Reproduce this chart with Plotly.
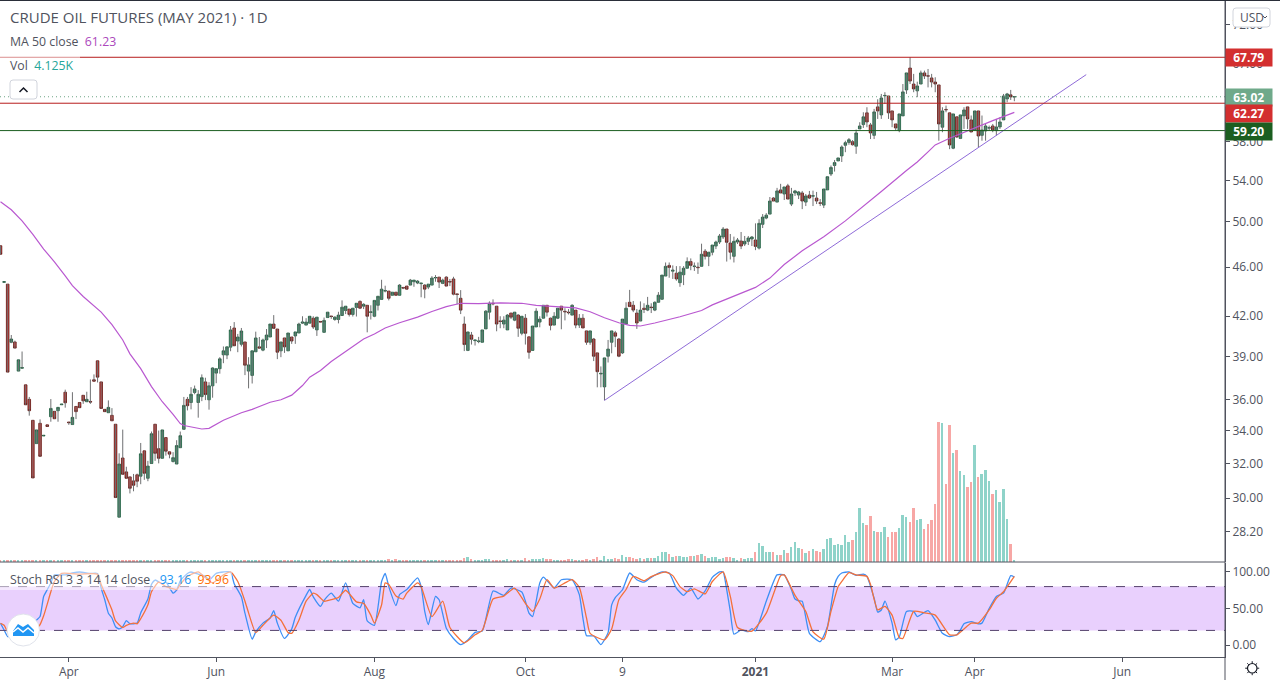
import plotly.graph_objects as go

W_PLOT = 1225
H = 680

# daily candles
opens = [
    47.85, 44.72, 44.57, 40.03, 40.05, 37.95, 38.15, 37.0, 36.02, 34.65,
    33.19, 34.46, 33.66, 34.36, 34.88, 35.23, 35.27, 35.66, 36.5, 34.54,
    34.38, 35.55, 35.81, 36.29, 35.86, 35.88, 37.35, 38.68, 37.2, 35.36,
    35.14, 34.97, 34.4, 28.97, 32.32, 31.5, 31.21, 30.98, 31.33, 31.25,
    32.75, 31.13, 31.99, 34.4, 32.88, 32.3, 33.56, 32.69, 32.11, 31.96,
    32.94, 34.08, 36.02, 35.81, 36.48, 35.81, 36.2, 37.2, 35.99, 36.93,
    37.81, 38.12, 39.11, 39.09, 39.67, 41.1, 40.12, 39.88, 40.05, 37.95,
    37.65, 39.33, 39.69, 39.45, 40.2, 40.42, 41.4, 41.02, 39.4, 40.35,
    39.4, 40.42, 40.5, 40.72, 41.47, 41.32, 41.47, 41.85, 40.95, 41.6,
    40.77, 41.9, 42.02, 41.75, 41.75, 42.06, 42.45, 42.56, 42.14, 42.69,
    43.17, 42.79, 42.86, 42.3, 42.0, 42.86, 43.33, 44.0, 44.0, 43.66,
    43.91, 43.66, 44.29, 44.41, 44.49, 44.77, 44.66, 44.61, 44.49, 44.33,
    44.49, 45.08, 45.15, 44.63, 45.15, 44.79, 45.0, 43.77, 43.42, 41.4,
    39.43, 40.57, 40.15, 40.08, 40.03, 41.03, 42.32, 43.02, 42.79, 41.64,
    41.4, 40.95, 42.25, 41.7, 42.09, 40.7, 41.85, 40.43, 39.43, 41.18,
    41.55, 41.85, 42.86, 41.85, 41.32, 41.85, 42.79, 42.39, 42.32, 42.09,
    42.48, 41.32, 41.85, 40.88, 40.03, 40.27, 39.25, 37.75, 36.86, 39.01,
    40.03, 40.73, 40.27, 39.25, 41.4, 43.1, 42.86, 42.25, 41.63, 42.63,
    42.48, 42.72, 42.48, 43.1, 43.34, 45.24, 46.14, 45.65, 45.48, 44.69,
    45.35, 45.9, 46.47, 46.04, 45.99, 46.06, 47.37, 46.92, 47.28, 47.82,
    48.18, 48.63, 49.35, 48.09, 46.92, 48.18, 48.27, 48.0, 48.24, 48.45,
    48.36, 47.64, 49.78, 50.36, 50.73, 52.26, 51.87, 53.05, 52.65, 53.45,
    51.68, 52.75, 52.55, 52.75, 51.87, 52.55, 52.44, 52.26, 51.8, 51.58,
    53.05, 54.63, 55.5, 55.97, 56.49, 57.61, 57.92, 58.0, 57.51, 59.38,
    59.86, 61.17, 59.82, 58.68, 61.85, 60.94, 63.13, 63.11, 61.39, 59.93,
    59.2, 60.83, 63.82, 66.46, 64.52, 63.71, 64.52, 65.86, 65.51, 65.25,
    64.76, 64.41, 59.57, 61.56, 61.17, 57.3, 60.72, 58.35, 60.83, 61.85,
    60.38, 59.27, 61.39, 58.68, 59.16, 59.47, 59.71, 59.2, 59.6, 60.38, 62.77, 63.24, 63.0,
]
closes = [
    47.1, 44.77, 37.88, 40.27, 39.6, 38.75, 38.2, 35.66, 35.27, 31.15,
    34.04, 32.42, 33.7, 34.26, 35.42, 34.75, 35.49, 35.7, 35.79, 34.5,
    34.84, 35.21, 35.47, 35.92, 36.02, 35.84, 37.25, 37.53, 35.42, 35.21,
    35.49, 34.62, 30.04, 31.96, 31.36, 31.13, 30.56, 30.73, 30.96, 32.57,
    31.42, 31.84, 33.8, 32.6, 32.3, 34.04, 32.73, 32.55, 32.34, 33.07,
    33.68, 35.62, 35.6, 36.36, 36.72, 36.36, 37.49, 36.34, 36.93, 38.17,
    38.12, 38.82, 39.4, 39.69, 40.95, 39.77, 40.42, 40.87, 38.37, 38.39,
    39.4, 40.35, 39.6, 40.2, 40.57, 41.4, 41.07, 39.3, 40.05, 39.69,
    40.72, 40.12, 40.8, 41.4, 41.55, 41.55, 42.0, 41.17, 41.93, 41.56,
    41.68, 42.32, 41.98, 41.93, 42.09, 42.71, 42.79, 42.14, 42.63, 43.02,
    42.63, 42.94, 42.0, 42.34, 43.25, 43.58, 44.16, 44.04, 43.42, 43.91,
    43.66, 44.49, 44.25, 44.16, 44.9, 44.9, 44.82, 44.65, 44.16, 44.57,
    45.07, 45.12, 44.74, 44.9, 44.41, 44.75, 43.75, 43.73, 42.48, 39.86,
    40.8, 40.25, 40.19, 40.12, 40.95, 42.4, 43.02, 42.98, 41.4, 41.6,
    41.7, 42.09, 41.93, 42.32, 41.08, 42.0, 40.7, 39.29, 41.25, 42.4,
    41.78, 42.86, 42.32, 41.3, 42.0, 42.63, 42.48, 42.35, 42.28, 42.86,
    41.32, 41.85, 41.1, 40.03, 40.88, 39.01, 37.91, 37.79, 38.89, 39.53,
    40.88, 40.48, 39.01, 41.78, 42.63, 42.76, 42.48, 41.48, 42.48, 42.53,
    42.86, 42.68, 43.1, 43.67, 45.32, 46.06, 45.97, 45.73, 45.0, 45.57,
    45.9, 46.47, 46.14, 46.08, 45.95, 47.1, 46.92, 47.28, 47.91, 48.18,
    48.72, 49.35, 48.15, 47.28, 48.24, 48.36, 47.82, 48.24, 48.54, 48.63,
    47.79, 49.87, 50.45, 50.63, 51.97, 51.97, 52.95, 52.75, 53.34, 52.16,
    52.65, 52.95, 52.85, 51.97, 52.46, 52.26, 52.48, 51.97, 51.76, 53.14,
    54.36, 55.3, 55.8, 56.28, 57.43, 57.89, 58.21, 57.67, 58.94, 59.71,
    60.72, 60.15, 58.94, 61.28, 61.39, 62.88, 63.17, 61.17, 60.38, 59.49,
    61.05, 63.59, 65.86, 64.88, 63.94, 64.29, 65.86, 65.49, 65.47, 64.76,
    64.52, 59.93, 61.39, 61.52, 57.65, 61.05, 58.5, 60.94, 61.5, 60.49,
    59.05, 61.39, 58.61, 59.27, 59.71, 59.51, 59.27, 59.6, 60.15, 63.11, 63.35, 63.0, 63.02,
]
highs = [
    47.85, 44.77, 44.57, 40.57, 40.15, 38.75, 39.35, 37.0, 36.18, 34.65,
    34.04, 34.71, 33.7, 34.36, 36.04, 35.23, 35.49, 35.7, 36.67, 34.54,
    36.5, 35.55, 35.81, 36.29, 36.53, 37.37, 37.72, 38.68, 37.2, 35.36,
    35.95, 35.44, 34.4, 32.6, 34.06, 31.8, 31.21, 31.38, 31.4, 33.23,
    32.75, 32.15, 33.94, 34.4, 34.0, 34.04, 33.56, 32.69, 32.67, 33.4,
    33.94, 36.18, 36.18, 36.84, 36.95, 36.64, 37.72, 37.49, 37.18, 38.22,
    38.12, 38.94, 39.72, 39.69, 41.25, 41.55, 40.65, 41.1, 40.05, 38.94,
    39.4, 40.82, 40.42, 40.3, 41.02, 41.4, 42.09, 41.02, 40.05, 40.35,
    40.72, 40.42, 40.8, 41.5, 42.0, 41.85, 42.0, 42.0, 41.93, 41.6,
    41.9, 42.32, 42.02, 42.0, 42.35, 43.25, 42.79, 42.56, 42.63, 43.02,
    43.25, 43.02, 42.86, 42.86, 43.25, 43.58, 44.93, 44.44, 44.0, 43.91,
    43.91, 44.57, 44.35, 44.41, 45.0, 44.9, 44.9, 44.65, 44.57, 44.57,
    45.23, 45.32, 45.15, 45.02, 45.23, 45.0, 45.18, 43.77, 44.08, 41.98,
    40.8, 40.8, 40.19, 40.43, 40.95, 42.48, 43.17, 43.33, 42.79, 42.0,
    42.0, 42.17, 42.25, 42.32, 42.17, 42.0, 42.17, 40.43, 41.25, 42.63,
    42.0, 42.86, 42.86, 41.9, 42.32, 42.63, 42.79, 42.63, 42.56, 42.94,
    42.48, 42.17, 42.17, 40.88, 40.88, 40.35, 39.25, 38.28, 38.89, 40.2,
    40.88, 40.88, 40.35, 41.78, 43.1, 44.1, 43.2, 42.56, 43.17, 43.02,
    43.53, 43.02, 43.17, 43.92, 45.32, 46.39, 46.39, 46.14, 46.08, 46.08,
    46.08, 46.83, 46.74, 46.39, 46.39, 48.03, 47.55, 47.28, 47.91, 48.3,
    48.9, 49.53, 49.35, 48.9, 48.66, 48.54, 49.08, 48.72, 48.72, 48.72,
    49.87, 50.25, 50.73, 50.82, 52.36, 52.36, 53.25, 53.65, 53.34, 53.65,
    53.25, 53.05, 52.95, 52.95, 52.65, 52.95, 52.98, 52.85, 52.16, 53.14,
    54.36, 55.5, 56.07, 56.28, 57.6, 58.1, 58.39, 58.17, 59.31, 60.12,
    61.24, 61.81, 60.04, 61.62, 62.73, 63.35, 63.55, 63.11, 61.39, 59.93,
    61.05, 64.52, 65.86, 67.79, 65.74, 64.8, 66.14, 66.14, 66.34, 65.74,
    65.33, 64.41, 61.81, 62.0, 61.17, 61.05, 60.72, 60.94, 61.81, 61.85,
    60.87, 61.39, 61.39, 60.87, 59.93, 59.75, 59.93, 60.49, 60.68, 63.35, 63.47, 63.82, 63.1,
]
lows = [
    47.1, 44.72, 37.88, 39.96, 39.6, 37.95, 38.15, 35.66, 34.95, 31.15,
    33.19, 32.42, 33.66, 34.26, 34.56, 34.75, 34.56, 35.66, 35.47, 34.36,
    34.38, 34.73, 35.47, 35.72, 35.86, 35.72, 37.25, 37.16, 35.42, 35.21,
    35.14, 34.62, 30.04, 28.97, 31.36, 31.13, 30.27, 30.39, 30.62, 30.79,
    31.04, 30.96, 31.99, 32.15, 32.0, 32.3, 32.46, 32.3, 32.05, 31.96,
    32.94, 34.08, 35.29, 35.36, 36.36, 34.82, 35.9, 35.97, 35.34, 36.13,
    37.11, 37.77, 38.51, 38.8, 39.37, 39.77, 39.3, 39.72, 37.67, 36.76,
    37.09, 39.33, 39.55, 39.37, 39.6, 40.42, 41.07, 38.8, 38.94, 39.25,
    39.4, 39.91, 39.91, 40.72, 41.4, 41.32, 41.47, 41.02, 40.5, 41.56,
    40.77, 41.9, 41.8, 41.65, 41.45, 42.06, 42.17, 41.98, 41.98, 41.98,
    42.56, 42.56, 40.77, 41.75, 41.93, 42.45, 43.33, 43.9, 43.25, 43.66,
    43.66, 43.66, 44.16, 44.1, 44.49, 44.35, 44.57, 43.5, 43.42, 44.16,
    44.49, 44.77, 44.25, 44.57, 44.41, 44.41, 43.66, 42.94, 42.17, 39.38,
    39.38, 39.86, 39.79, 39.96, 40.03, 41.03, 41.75, 42.86, 40.85, 41.08,
    41.08, 40.95, 41.78, 41.62, 40.43, 40.55, 39.86, 38.83, 39.43, 41.18,
    41.15, 41.85, 41.98, 40.92, 41.32, 41.78, 41.0, 41.68, 42.14, 42.09,
    41.08, 41.1, 41.1, 39.84, 39.84, 38.66, 36.83, 36.83, 35.95, 38.56,
    39.22, 39.67, 38.94, 39.17, 41.4, 42.76, 42.32, 41.03, 41.63, 42.25,
    42.4, 42.25, 42.4, 43.1, 43.34, 45.24, 45.1, 45.0, 44.85, 44.35,
    44.49, 45.9, 45.73, 45.67, 45.42, 46.06, 46.65, 46.08, 47.01, 47.55,
    48.0, 48.45, 46.47, 46.65, 46.39, 48.0, 47.55, 47.82, 47.91, 47.82,
    47.46, 47.52, 49.44, 50.25, 50.73, 51.97, 51.87, 52.75, 52.07, 52.16,
    51.49, 52.46, 52.16, 51.2, 51.49, 52.16, 51.49, 51.68, 51.49, 51.3,
    53.05, 54.43, 54.88, 55.97, 55.86, 56.88, 57.67, 57.58, 56.71, 59.38,
    59.49, 59.57, 58.28, 58.28, 60.49, 60.49, 62.18, 60.49, 59.57, 59.2,
    59.02, 60.83, 63.35, 64.52, 63.55, 62.97, 64.52, 65.12, 64.12, 64.12,
    63.55, 58.1, 59.02, 61.24, 57.2, 57.2, 58.39, 58.28, 59.38, 59.38,
    59.02, 59.2, 57.4, 58.1, 58.1, 59.2, 59.02, 58.65, 59.38, 60.38, 62.38, 62.65, 62.5,
]

# volume in thousands
volumes = [
    3.4, 4.8, 4.1, 2.7, 2.7, 4.8, 2.7, 2.1, 2.7, 2.7, 2.7,
    2.1, 2.7, 2.7, 2.1, 3.4, 2.1, 4.8, 2.7, 4.8, 4.8,
    4.8, 4.8, 4.8, 2.7, 2.7, 4.8, 2.1, 2.1, 2.1, 2.1,
    2.7, 4.8, 4.8, 2.7, 2.1, 2.1, 2.1, 2.1, 4.8, 2.1,
    2.1, 4.1, 2.1, 4.8, 4.8, 2.1, 4.8, 2.1, 4.1, 4.8,
    4.8, 4.8, 2.1, 2.1, 4.8, 4.8, 4.8, 2.1, 2.1, 4.8,
    4.8, 2.1, 2.1, 2.1, 4.8, 4.8, 2.1, 4.1, 2.1, 4.8,
    4.8, 2.1, 2.1, 4.8, 4.8, 2.1, 4.8, 4.8, 4.8, 4.8,
    4.8, 4.8, 4.8, 2.7, 2.7, 4.8, 2.1, 2.1, 2.1, 2.1,
    4.8, 2.1, 2.1, 2.1, 4.8, 2.1, 4.8, 4.8, 2.7, 2.1,
    4.8, 2.1, 2.1, 2.1, 4.8,
    4.1, 4.1, 6.2, 4.1, 6.2, 4.1, 4.1, 4.1, 4.1, 4.1,
    2.1, 2.1, 2.1, 4.1, 4.1, 2.1, 4.1, 2.1, 4.1, 4.1,
    4.1, 4.1, 4.1, 8.2, 10.3, 6.2, 4.1, 4.1, 4.1, 6.2,
    6.2, 4.1, 4.1, 4.1, 4.1, 6.2, 4.1, 4.1, 4.1, 4.1,
    8.2, 4.1, 6.2, 6.2, 6.2, 8.2, 6.2, 6.2, 4.1, 4.1,
    4.1, 4.1, 6.2, 6.2, 4.1, 4.1, 4.1, 6.2, 4.1, 6.2,
    10.3, 4.1, 12.4, 6.2, 6.2, 8.2, 6.2, 14.4, 10.3, 10.3,
    8.2, 6.2, 8.2, 6.2, 8.2, 8.2, 8.2, 12.4, 20.6, 20.6,
    16.5, 10.3, 12.4, 12.4, 10.3, 10.3, 12.4, 12.4, 14.4, 16.5,
    12.4, 8.2, 10.3, 10.3, 6.2, 8.2, 10.3, 10.3, 8.2, 4.1,
    7.6, 5.5, 7.6, 7.6, 20.0, 38.5, 32.3, 20.0, 20.0, 20.0,
    13.7, 13.7, 24.0, 17.9, 30.2, 40.5, 28.2, 26.1, 17.9, 22.0,
    26.1, 22.0, 20.0, 26.1, 46.7, 48.8, 34.4, 36.4, 34.4, 55.0,
    40.5, 44.7, 61.1, 110.6, 79.7, 75.6, 94.1, 63.2, 61.1, 61.1,
    71.4, 50.8, 61.1, 61.1, 69.4, 96.2, 92.1, 81.8, 110.6, 85.9,
    87.9, 67.3, 77.6, 85.9, 118.9, 287.9, 285.8, 160.1, 281.7, 224.0,
    230.1, 186.9, 178.6, 153.9, 164.2, 240.5, 174.5, 180.7, 188.9, 166.3,
    139.5, 147.7, 123.0, 149.8, 87.9, 36.4, 4.1,
]

# moving average, read at the bars where it bends
ma_bars = [
    0, 3, 6, 9, 12, 15, 18, 20, 23, 25, 28, 31, 34, 36, 39, 42, 45, 48, 50, 51, 53, 56, 58,
    62, 67, 70, 75, 78, 81, 84, 86, 89, 92, 95, 98, 101, 104, 107, 111, 116, 120, 124, 128,
    133, 139, 145, 149, 155, 160, 164, 168, 172, 175, 178, 182, 189, 195, 198, 204, 210,
    214, 218, 223, 229, 235, 239, 243, 245, 252, 255, 258, 260, 264, 268, 272, 276, 282,
]
ma_values = [
    51.9, 51.14, 50.1, 48.87, 47.55, 46.45, 45.26, 44.44, 43.56, 43.07, 42.32, 41.35, 40.2,
    39.18, 38.12, 36.88, 35.86, 35.03, 34.44, 34.32, 34.22, 34.1, 34.14, 34.65, 35.14, 35.36,
    35.83, 35.99, 36.3, 36.95, 37.53, 38.0, 38.63, 39.16, 39.74, 40.27, 40.65, 41.1, 41.5,
    41.93, 42.37, 42.76, 43.02, 43.0, 43.05, 43.02, 42.86, 42.73, 42.66, 42.35, 41.88, 41.5,
    41.3, 41.25, 41.48, 41.96, 42.45, 42.89, 43.6, 44.3, 45.07, 46.22, 47.4, 48.66, 50.1,
    51.17, 52.33, 52.9, 54.98, 55.86, 56.91, 57.65, 58.36, 59.02, 59.71, 60.3, 61.23,
]

# stoch rsi %K
k_bars = [
    0, 1, 2, 3, 4, 6, 8, 9, 10, 11, 12, 13, 14, 15, 18, 20, 22, 25, 27, 28, 29, 30, 31, 32, 33,
    34, 35, 36, 38, 39, 41, 42, 43, 45, 46, 48, 49, 50, 52, 53, 55, 57, 58, 60, 62, 64, 65, 67,
    68, 70, 71, 73, 75, 76, 77, 79, 81, 82, 85, 86, 87, 89, 90, 92, 94, 96, 98, 100, 101, 102,
    104, 106, 107, 108, 110, 111, 113, 116, 117, 118, 119, 121, 122, 124, 126, 128, 130, 132,
    134, 137, 139, 140, 142, 145, 146, 147, 148, 150, 151, 154, 156, 159, 161, 162, 163, 165,
    167, 169, 170, 171, 173, 175, 177, 179, 181, 184, 186, 188, 190, 192, 194, 196, 198, 200,
    201, 202, 203, 204, 206, 208, 209, 210, 213, 216, 218, 220, 221, 222, 223, 225, 228, 230,
    232, 233, 234, 236, 238, 240, 241, 243, 244, 245, 246, 248, 249, 250, 252, 254, 255, 258,
    260, 262, 264, 266, 267, 268, 270, 272, 273, 275, 277, 279, 281, 282,
]
k_values = [
    29.8, 20.6, 11.5, 11.5, 10, 8, 15, 28, 34, 39, 66.5, 75.7, 85, 96, 96, 98.6, 100, 98, 98, 78,
    62, 43.6, 37, 25, 22, 25, 33.5, 29, 30, 44, 63, 83, 89, 84, 86, 71, 75, 88, 98, 100, 97, 94,
    89, 98, 100, 100, 84, 66, 43.6, 8, 18, 30, 37, 47, 30, 9, 22, 38, 68, 76, 66, 53, 61, 71, 60,
    85, 57, 51, 62, 33, 27, 87, 98, 80, 54, 69, 76, 92, 80, 46, 28, 66.5, 62, 23, 9, 0.5, 7, 17.4,
    19, 74, 70, 68, 78, 72.5, 60, 43.6, 39, 85, 93, 78, 89.4, 89.4, 69, 37, 12.8, 12.4, 0.5, 17,
    55, 65, 75.7, 98.6, 89.4, 86, 92.7, 100, 98.6, 78, 68, 78, 63, 74, 92.7, 100, 100, 75.7, 46,
    15, 20.6, 18.3, 22.5, 19.3, 60, 96, 96, 75.7, 63, 60.5, 60, 16, 4.6, 25, 82.6, 94, 98.6, 100,
    95.4, 97, 94, 64, 45, 48, 60, 30, 7, 11, 46, 46, 39, 47, 34, 16, 11.5, 14, 20.6, 29, 32, 29,
    30, 50, 66.5, 71, 95, 93.16,
]

# stoch rsi %D
d_bars = [
    0, 1, 2, 4, 7, 9, 11, 12, 13, 14, 15, 17, 22, 27, 28, 30, 31, 32, 34, 35, 37, 38, 39, 41, 42,
    44, 46, 49, 50, 52, 55, 57, 59, 62, 64, 66, 68, 69, 71, 73, 76, 78, 80, 81, 83, 85, 87, 88,
    90, 92, 94, 96, 99, 101, 103, 104, 106, 107, 108, 110, 112, 113, 116, 117, 120, 123, 125,
    129, 132, 134, 137, 140, 143, 146, 148, 150, 152, 154, 157, 159, 161, 163, 164, 168, 170,
    172, 174, 176, 179, 181, 185, 187, 189, 191, 193, 196, 198, 201, 203, 205, 209, 213, 217,
    218, 221, 224, 226, 229, 231, 233, 234, 236, 238, 241, 242, 244, 246, 248, 250, 251, 254,
    257, 260, 264, 266, 270, 272, 275, 277, 279, 282,
]
d_values = [
    29.8, 27, 18, 13, 12, 17, 28, 40, 56, 73, 87, 98, 97, 97, 83, 60, 48, 33, 24, 27, 30, 29, 36,
    55, 73, 86, 80, 76, 83, 94, 100, 92, 85, 96, 100, 87, 60, 44, 17, 27, 41, 34, 17, 16, 34, 60,
    71, 69, 60, 62, 65, 75, 59, 57, 41, 30, 55, 85, 83, 67, 63, 71, 85, 80, 39, 60, 24, 3, 14, 20,
    63, 67, 78, 57, 46, 63, 89.4, 78, 85, 89.4, 79, 37, 16, 7, 22, 62, 76, 94, 88, 93.6, 100, 95,
    80, 73, 77, 70, 87, 100, 66.5, 24, 19, 43.6, 95, 96, 68, 46, 18, 8, 46, 80, 87, 99, 96, 94,
    83, 48, 53, 41, 10, 9, 46, 44, 41, 14, 14, 30, 30, 48, 64, 73, 93.96,
]

# horizontal levels and the rising trendline
top_level = 67.79
mid_level = 62.27
low_level = 59.20
last_price = 63.02
trend_bars = [168, 302]
trend_prices = [35.95, 65.65]

# 62.00 sits fully behind the tags in the reference, so it is left out
price_ticks = [28.2, 30, 32, 34, 36, 39, 42, 46, 50, 54, 58, 67, 72]
stoch_ticks = [0, 50, 100]
time_ticks = [19, 60, 104, 146, 173, 210, 248, 271, 312]
time_labels = ['Apr', 'Jun', 'Aug', 'Oct', '9', '<b>2021</b>', 'Mar', 'Apr', 'Jun']

UP = '#3f9170'
DOWN = '#d7322d'
TEXT = '#50535e'
FONT = 'Open Sans'


def px(x):
    return x / W_PLOT


def py(y):
    return 1 - y / H


def rounded(x0, y0, x1, y1, r=3):
    return (f'M {px(x0 + r)} {py(y0)} L {px(x1 - r)} {py(y0)} Q {px(x1)} {py(y0)} {px(x1)} {py(y0 + r)} '
            f'L {px(x1)} {py(y1 - r)} Q {px(x1)} {py(y1)} {px(x1 - r)} {py(y1)} '
            f'L {px(x0 + r)} {py(y1)} Q {px(x0)} {py(y1)} {px(x0)} {py(y1 - r)} '
            f'L {px(x0)} {py(y0 + r)} Q {px(x0)} {py(y0)} {px(x0 + r)} {py(y0)} Z')


bars = list(range(len(closes)))
x_range = [-0.14, 340.6]

fig = go.Figure()

# wicks go under the bodies so they can stay grey
wick_x, wick_y = [], []
for i in bars:
    wick_x += [i, i, None]
    wick_y += [lows[i], highs[i], None]
fig.add_trace(go.Scatter(x=wick_x, y=wick_y, mode='lines', line=dict(color='#6f7072', width=1),
                         hoverinfo='skip', showlegend=False))

body_top = [max(o, c) for o, c in zip(opens, closes)]
body_bot = [min(o, c) for o, c in zip(opens, closes)]
fig.add_trace(go.Candlestick(
    x=bars, open=opens, high=body_top, low=body_bot, close=closes,
    increasing=dict(line=dict(color='#1d5a3c', width=0.8), fillcolor=UP),
    decreasing=dict(line=dict(color='#5a1512', width=0.8), fillcolor=DOWN),
    hoverinfo='skip', showlegend=False))

fig.add_trace(go.Scatter(x=ma_bars, y=ma_values, mode='lines', line=dict(color='#b958d0', width=1.2),
                         hoverinfo='skip', showlegend=False))
fig.add_trace(go.Scatter(x=trend_bars, y=trend_prices, mode='lines', line=dict(color='#8f6bd8', width=1),
                         hoverinfo='skip', showlegend=False))

# full width price levels
for level, color, dash in [(top_level, '#b71c1c', 'solid'), (mid_level, '#b71c1c', 'solid'),
                           (low_level, '#1b5e20', 'solid'), (last_price, '#6ca584', '1px,3px')]:
    fig.add_trace(go.Scatter(x=x_range, y=[level, level], mode='lines',
                             line=dict(color=color, width=1, dash=dash),
                             hoverinfo='skip', showlegend=False))

vol_colors = ['#8fd3c9' if c >= o else '#f7a7a5' for o, c in zip(opens, closes)]
fig.add_trace(go.Bar(x=bars, y=volumes, yaxis='y2', marker=dict(color=vol_colors, line=dict(width=0)),
                     width=0.55, hoverinfo='skip', showlegend=False))

fig.add_trace(go.Scatter(x=k_bars, y=k_values, yaxis='y3', mode='lines',
                         line=dict(color='#3d8ff5', width=1.3, shape='spline', smoothing=0.5),
                         hoverinfo='skip', showlegend=False))
fig.add_trace(go.Scatter(x=d_bars, y=d_values, yaxis='y3', mode='lines',
                         line=dict(color='#f4703a', width=1.3, shape='spline', smoothing=0.5),
                         hoverinfo='skip', showlegend=False))

fig.update_layout(
    width=1280, height=H,
    margin=dict(l=0, r=55, t=0, b=0),
    paper_bgcolor='white', plot_bgcolor='white',
    font=dict(family=FONT, color=TEXT, size=12),
    showlegend=False,
    bargap=0,
    boxgap=0.15, boxgroupgap=0.15,
    xaxis=dict(range=x_range, anchor='y3', tickmode='array', tickvals=time_ticks, ticktext=time_labels,
               ticks='outside', ticklen=4, tickcolor=TEXT, showgrid=False, zeroline=False,
               showline=True, linecolor=TEXT, linewidth=1, rangeslider=dict(visible=False),
               tickfont=dict(size=12, color=TEXT, family=FONT), tickangle=0),
    yaxis=dict(type='log', domain=[118 / H, 679 / H], range=[1.42596, 1.87635], side='right', anchor='x',
               tickmode='array', tickvals=price_ticks, ticktext=[f'{t:.2f}' for t in price_ticks],
               ticks='outside', ticklen=4, tickcolor=TEXT, showgrid=False, zeroline=False,
               showline=True, linecolor=TEXT, linewidth=1),
    yaxis2=dict(domain=[118 / H, 679 / H], range=[0, 1156], overlaying='y', visible=False),
    yaxis3=dict(domain=[23 / H, 117 / H], range=[-16.4, 112.3], side='right', anchor='x',
                tickmode='array', tickvals=stoch_ticks, ticktext=[f'{t:.2f}' for t in stoch_ticks],
                ticks='outside', ticklen=4, tickcolor=TEXT, showgrid=False, zeroline=False,
                showline=True, linecolor=TEXT, linewidth=1),
)

band_line = dict(color='#54426b', width=1, dash='dash')
shapes = [
    # stoch band, 20 to 80
    dict(type='rect', xref='paper', yref='y3', x0=0, x1=1, y0=20, y1=80, fillcolor='#e9d0fd',
         line=dict(width=0), layer='below'),
    dict(type='line', xref='paper', yref='y3', x0=0, x1=1, y0=80, y1=80, line=band_line),
    dict(type='line', xref='paper', yref='y3', x0=0, x1=1, y0=20, y1=20, line=band_line),
    # pane frame
    dict(type='line', xref='paper', yref='paper', x0=0, x1=1, y0=py(562), y1=py(562),
         line=dict(color=TEXT, width=1)),
    dict(type='line', xref='paper', yref='paper', x0=1, x1=1, y0=0, y1=1, line=dict(color=TEXT, width=1)),
    dict(type='line', xref='paper', yref='paper', x0=0, x1=1280 / W_PLOT, y0=py(0.5), y1=py(0.5),
         line=dict(color='#2a2e39', width=1)),
    # legend backdrops
    dict(type='rect', xref='paper', yref='paper', x0=0, x1=px(80), y0=py(33), y1=py(58),
         fillcolor='rgba(255,255,255,0.5)', line=dict(width=0)),
    dict(type='rect', xref='paper', yref='paper', x0=0, x1=px(232), y0=py(568), y1=py(590),
         fillcolor='rgba(255,255,255,0.5)', line=dict(width=0)),
    # collapse button and currency button
    dict(type='path', xref='paper', yref='paper', path=rounded(10, 80, 37, 99),
         fillcolor='white', line=dict(color='#d1d4dc', width=1)),
    dict(type='path', xref='paper', yref='paper',
         path=f'M {px(19.5)} {py(92)} L {px(23.5)} {py(88)} L {px(27.5)} {py(92)}',
         line=dict(color='#131722', width=1.5)),
    dict(type='path', xref='paper', yref='paper', path=rounded(1233, 8, 1270, 27),
         fillcolor='white', line=dict(color='#d1d4dc', width=1)),
    dict(type='path', xref='paper', yref='paper',
         path=f'M {px(1263)} {py(16)} L {px(1265)} {py(18)} L {px(1267)} {py(16)}',
         line=dict(color=TEXT, width=1)),
    # logo
    dict(type='circle', xref='paper', yref='paper', x0=px(7), x1=px(39.5), y0=py(646), y1=py(614),
         fillcolor='white', line=dict(color='#e0e3eb', width=1)),
    dict(type='path', xref='paper', yref='paper',
         path=(f'M {px(13)} {py(636)} L {px(13)} {py(631)} L {px(18)} {py(624)} L {px(23)} {py(627)} '
               f'L {px(28)} {py(624)} L {px(34)} {py(630)} L {px(34)} {py(636)} Z'),
         fillcolor='#2196f3', line=dict(width=0)),
    dict(type='path', xref='paper', yref='paper',
         path=f'M {px(13)} {py(632)} L {px(18)} {py(628)} L {px(23)} {py(632)} L {px(28)} {py(628)} L {px(34)} {py(633)}',
         line=dict(color='white', width=1.5)),
    # settings icon
    dict(type='circle', xref='paper', yref='paper', x0=px(1247.5), x1=px(1257), y0=py(673), y1=py(663.5),
         line=dict(color='#131722', width=1.2)),
]

# little rays round the settings circle
rays = [(0, -1), (0, 1), (-1, 0), (1, 0), (-0.7, -0.7), (0.7, -0.7), (-0.7, 0.7), (0.7, 0.7)]
for dx, dy in rays:
    shapes.append(dict(type='line', xref='paper', yref='paper',
                       x0=px(1252.2 + dx * 5), x1=px(1252.2 + dx * 7), y0=py(668.2 + dy * 5), y1=py(668.2 + dy * 7),
                       line=dict(color='#131722', width=1)))

# price tags stack on the right
tags = [('67.79', 57, '#d32f2f'), ('63.02', 97.5, '#6fa98a'), ('62.27', 114, '#d32f2f'), ('59.20', 131, '#1b5e20')]
annotations = []
for label, y, color in tags:
    annotations.append(dict(xref='paper', yref='paper', x=px(1224.5), y=py(y), xanchor='left', yanchor='middle',
                            text=f'<b>{label}</b>', showarrow=False, width=45.5, height=17, bgcolor=color, borderpad=0,
                            align='center', font=dict(color='white', size=12, family=FONT)))

annotations += [
    dict(xref='paper', yref='paper', x=px(8), y=py(17), xanchor='left', yanchor='middle', showarrow=False,
         text='CRUDE OIL FUTURES (MAY 2021) · 1D', font=dict(size=15, color=TEXT, family=FONT)),
    dict(xref='paper', yref='paper', x=px(8), y=py(41), xanchor='left', yanchor='middle', showarrow=False,
         text="MA 50 close  <span style='color:#ab47bc'>61.23</span>", font=dict(size=12.3, color=TEXT, family=FONT)),
    dict(xref='paper', yref='paper', x=px(8), y=py(65), xanchor='left', yanchor='middle', showarrow=False,
         text="Vol  <span style='color:#26a69a'>4.125K</span>", font=dict(size=12.3, color=TEXT, family=FONT)),
    dict(xref='paper', yref='paper', x=px(8), y=py(579), xanchor='left', yanchor='middle', showarrow=False,
         text=("Stoch RSI 3 3 14 14 close   <span style='color:#2196f3'>93.16</span>"
               "  <span style='color:#ff6d00'>93.96</span>"), font=dict(size=12.3, color=TEXT, family=FONT)),
    dict(xref='paper', yref='paper', x=px(1238), y=py(17), xanchor='left', yanchor='middle', showarrow=False,
         text='USD', font=dict(size=12, color=TEXT, family=FONT)),
]
fig.update_layout(shapes=shapes, annotations=annotations)

fig.write_html('out.html', config=dict(displayModeBar=False),
               post_script="document.body.style.margin='0';document.body.style.overflow='hidden';")
